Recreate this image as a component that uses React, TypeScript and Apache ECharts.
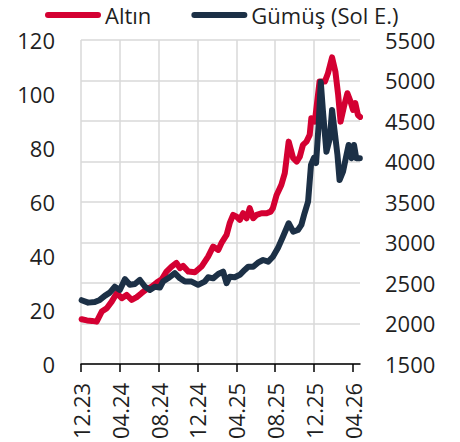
import React, { useEffect, useRef } from "react";
import * as echarts from "echarts";

const xTickLabels = ["12.23", "04.24", "08.24", "12.24", "04.25", "08.25", "12.25", "04.26"];

const goldName = "Altın";
const silverName = "Gümüş (Sol E.)";

const goldDates = [
  "2023-12-03", "2023-12-20", "2024-01-05", "2024-01-20", "2024-02-05", "2024-02-20",
  "2024-03-06", "2024-03-22", "2024-04-07", "2024-04-22", "2024-05-08", "2024-05-24",
  "2024-06-08", "2024-06-24", "2024-07-10", "2024-07-26", "2024-08-11", "2024-08-26",
  "2024-09-11", "2024-09-26", "2024-10-07", "2024-10-17", "2024-11-03", "2024-11-23",
  "2024-12-14", "2025-01-04", "2025-01-20", "2025-02-05", "2025-02-14", "2025-03-01",
  "2025-03-11", "2025-03-22", "2025-04-02", "2025-04-12", "2025-04-22", "2025-05-03",
  "2025-05-13", "2025-05-24", "2025-06-04", "2025-06-19", "2025-07-05", "2025-07-18",
  "2025-07-25", "2025-08-06", "2025-08-21", "2025-09-01", "2025-09-13", "2025-09-27",
  "2025-10-08", "2025-10-18", "2025-10-28", "2025-11-08", "2025-11-18", "2025-11-23",
  "2025-12-04", "2025-12-19", "2026-01-05", "2026-01-15", "2026-01-28", "2026-02-07",
  "2026-02-15", "2026-02-22", "2026-03-04", "2026-03-15", "2026-03-25", "2026-04-02",
  "2026-04-09", "2026-04-17", "2026-04-24",
];
const goldValues = [
  2052, 2037, 2031, 2022, 2146, 2188,
  2269, 2373, 2311, 2352, 2290, 2324,
  2373, 2423, 2455, 2504, 2546, 2640,
  2702, 2747, 2682, 2710, 2640, 2632,
  2702, 2825, 2949, 2908, 2991, 3093,
  3238, 3340, 3319, 3278, 3361, 3299,
  3423, 3299, 3340, 3361, 3361, 3381,
  3423, 3587, 3711, 3855, 4245, 4040,
  3998, 4060, 4205, 4245, 4328, 4534,
  4492, 4986, 4986, 5090, 5285, 5110,
  4822, 4492, 4678, 4843, 4739, 4637,
  4720, 4575, 4550,
];

const silverDates = [
  "2023-12-03", "2023-12-24", "2024-01-14", "2024-01-30", "2024-02-14", "2024-02-29",
  "2024-03-16", "2024-04-01", "2024-04-17", "2024-05-02", "2024-05-18", "2024-06-03",
  "2024-06-19", "2024-07-04", "2024-07-20", "2024-08-05", "2024-08-15", "2024-08-31",
  "2024-09-21", "2024-10-07", "2024-10-23", "2024-11-13", "2024-12-03", "2024-12-24",
  "2025-01-04", "2025-01-20", "2025-02-05", "2025-02-19", "2025-03-01", "2025-03-11",
  "2025-03-27", "2025-04-12", "2025-04-27", "2025-05-08", "2025-05-24", "2025-06-08",
  "2025-06-24", "2025-07-10", "2025-07-25", "2025-08-10", "2025-08-26", "2025-09-13",
  "2025-09-27", "2025-10-12", "2025-10-23", "2025-11-02", "2025-11-13", "2025-11-22",
  "2025-12-01", "2025-12-08", "2025-12-16", "2025-12-23", "2025-12-30", "2026-01-10",
  "2026-01-21", "2026-01-28", "2026-02-05", "2026-02-13", "2026-02-19", "2026-03-01",
  "2026-03-12", "2026-03-19", "2026-03-28", "2026-04-05", "2026-04-12", "2026-04-23",
];
const silverValues = [
  23.6, 22.7, 22.9, 23.7, 25.2, 26.4,
  28.6, 27.4, 31.4, 29.3, 29.6, 31.1,
  28.6, 27.4, 28.6, 28.3, 30.5, 31.7,
  33.6, 31.7, 30.5, 30.5, 29.3, 30.5,
  32.1, 31.7, 33.3, 34.2, 29.9, 32.3,
  32.1, 33.0, 34.8, 36.0, 36.0, 37.5,
  38.5, 37.9, 39.7, 42.9, 47.1, 52.1,
  49.0, 49.6, 51.5, 55.8, 60.1, 73.7,
  76.3, 74.4, 88.5, 104.4, 93.4, 78.6,
  83.6, 94.1, 86.0, 77.4, 68.1, 71.2,
  77.4, 81.1, 76.2, 81.1, 76.2, 76.2,
];

// months elapsed since 2023-12-01
function monthIndex(d: string): number {
  const [y, m, day] = d.split("-").map(Number);
  const dim = new Date(y, m, 0).getDate();
  return (y - 2023) * 12 + (m - 12) + (day - 1) / dim;
}

const FONT = "Open Sans";
const TEXT = "#1f1f1f";
const GRID = "#d9d9d9";
const RED = "#d40032";
const NAVY = "#1c3046";

export default function App() {
  const ref = useRef<HTMLDivElement>(null);
  useEffect(() => {
    document.body.style.margin = "0";
    if (!ref.current) return;
    const chart = echarts.init(ref.current, null, { renderer: "svg" });
    const tickVals = xTickLabels.map((_, i) => i * 4);
    const capsule = "path://M3,0 L53,0 A3,3 0 0 1 53,6 L3,6 A3,3 0 0 1 3,0 Z";
    chart.setOption({
      animation: false,
      textStyle: { fontFamily: FONT },
      legend: {
        data: [
          { name: goldName, icon: capsule },
          { name: silverName, icon: capsule },
        ],
        left: 45,
        top: 3,
        padding: 0,
        itemWidth: 56,
        itemHeight: 6,
        itemGap: 40,
        textStyle: { fontSize: 22, lineHeight: 24, color: TEXT, fontFamily: FONT, padding: [0, 0, 0, -1] },
      },
      grid: { left: 81, right: 100, top: 40, bottom: 78, containLabel: false },
      xAxis: {
        type: "value",
        min: 0,
        max: 28.75,
        interval: 4,
        axisLine: { onZero: false, lineStyle: { color: "#000", width: 1.5 } },
        axisTick: { show: true, length: 8, customValues: tickVals, lineStyle: { color: "#000", width: 1.5 } },
        splitLine: { show: true, showMaxLine: false, lineStyle: { color: GRID, width: 1.5 } },
        axisLabel: {
          customValues: tickVals,
          rotate: 90,
          margin: 19,
          fontSize: 22,
          color: TEXT,
          fontFamily: FONT,
          formatter: (v: number) => xTickLabels[Math.round(v / 4)] ?? "",
        },
      },
      yAxis: [
        {
          type: "value",
          position: "left",
          min: 0,
          max: 120,
          interval: 20,
          axisLine: { show: false },
          axisTick: { show: false },
          splitLine: { show: false },
          axisLabel: { fontSize: 22, color: TEXT, margin: 26, fontFamily: FONT, formatter: (v: number) => String(v) },
        },
        {
          type: "value",
          position: "right",
          min: 1500,
          max: 5500,
          interval: 500,
          axisLine: { show: false },
          axisTick: { show: false },
          splitLine: { show: true, lineStyle: { color: GRID, width: 1.5 } },
          axisLabel: { fontSize: 22, color: TEXT, margin: 25, fontFamily: FONT, formatter: (v: number) => String(v) },
        },
      ],
      series: [
        {
          name: goldName,
          type: "line",
          yAxisIndex: 1,
          showSymbol: false,
          color: RED,
          lineStyle: { width: 6, color: RED, join: "round", cap: "round" },
          data: goldDates.map((d, i) => [monthIndex(d), goldValues[i]]),
        },
        {
          name: silverName,
          type: "line",
          yAxisIndex: 0,
          showSymbol: false,
          color: NAVY,
          lineStyle: { width: 6, color: NAVY, join: "round", cap: "round" },
          data: silverDates.map((d, i) => [monthIndex(d), silverValues[i]]),
        },
      ],
    });
    return () => chart.dispose();
  }, []);
  return <div ref={ref} style={{ width: 460, height: 442 }} />;
}
